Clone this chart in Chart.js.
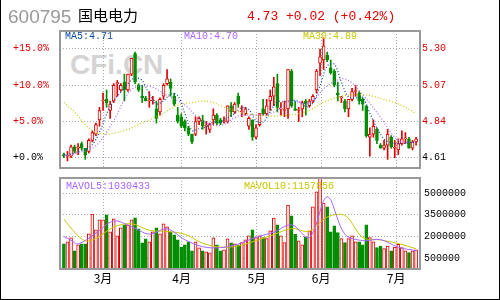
<!DOCTYPE html>
<html>
<head>
<meta charset="utf-8">
<script src="https://cdn.jsdelivr.net/npm/chart.js@4.4.1/dist/chart.umd.min.js"></script>
<style>
  body { margin: 0; background: #fff; }
  #box { position: relative; width: 500px; height: 300px; overflow: hidden; background: #fff; }
  #box canvas { position: absolute; left: 0; top: 0; }
  .t { position: absolute; white-space: nowrap; }
  .mono { font-family: "Liberation Mono", monospace; font-size: 10px; line-height: 10px; }
  #wm { left: 70px; top: 51px; font: bold 28px/28px "Liberation Sans", sans-serif; color: #d4d4d4; }
  #code { left: 8px; top: 7px; font: 19px/19px "Liberation Sans", sans-serif; color: #999; }
  #name { left: 78px; top: 7px; font: 15px/16px "Noto Sans CJK SC", sans-serif; color: #000; }
  #price { left: 247px; top: 10px; font: 13px/13px "Liberation Mono", monospace; color: #e00000; }
  #frame { position: absolute; left: 0; top: 0; width: 500px; height: 300px; box-sizing: border-box;
           border: 1px solid #000; border-top: none; pointer-events: none; }
</style>
</head>
<body>
<div id="box">
  <div class="t" id="wm">CFi.CN</div>
  <canvas id="kline" width="500" height="300"></canvas>
  <canvas id="vol" width="500" height="300"></canvas>
  <div class="t" id="code">600795</div>
  <div class="t" id="name">国电电力</div>
  <div class="t" id="price">4.73 +0.02 (+0.42%)</div>
  <div class="t mono" style="left:65px;top:32px;color:#0a4a9c">MA5:4.71</div>
  <div class="t mono" style="left:184px;top:32px;color:#a866ff">MA10:4.70</div>
  <div class="t mono" style="left:303px;top:32px;color:#c8c800">MA30:4.89</div>
  <div class="t mono" style="left:66px;top:182px;color:#a866ff">MAVOL5:1030433</div>
  <div class="t mono" style="left:244px;top:182px;color:#c8c800">MAVOL10:1157856</div>
  <div id="frame"></div>
</div>
<script>
// daily candles, left to right
const open = [4.63,4.62,4.62,4.68,4.67,4.70,4.67,4.65,4.72,4.76, 4.85,4.97,4.98,4.91,4.97,5.08,5.04,5.09,5.04,5.14,
  5.27,5.07,5.00,4.99,4.97,4.97,4.92,4.90,5.00,5.08, 5.09,5.00,4.88,4.87,4.84,4.80,4.76,4.76,4.84,4.85,
  4.81,4.79,4.85,4.88,4.85,4.84,4.84,4.94,4.90,5.00, 4.90,4.89,4.81,4.85,4.74,4.82,4.92,4.89,4.97,5.00,
  5.08,4.92,4.91,4.92,5.16,4.92,4.91,4.92,4.97,4.94, 4.97,5.04,5.21,5.23,5.26,5.18,5.16,5.02,4.99,4.97,
  4.92,4.98,5.03,5.02,4.98,4.94,4.74,4.76,4.79,4.69, 4.67,4.69,4.74,4.67,4.66,4.70,4.73,4.73,4.67,4.71];
const high = [4.64,4.65,4.69,4.69,4.70,4.71,4.67,4.73,4.78,4.83, 4.93,5.02,5.04,4.97,5.08,5.10,5.08,5.14,5.14,5.24,
  5.28,5.08,5.07,5.00,5.03,5.00,4.97,4.99,5.08,5.17, 5.11,5.02,4.93,4.89,4.85,4.81,4.76,4.87,4.87,4.88,
  4.84,4.83,4.92,4.89,4.86,4.87,4.94,4.96,4.96,5.02, 4.94,4.93,4.87,4.85,4.82,4.89,4.98,4.98,5.04,5.12,
  5.14,4.96,4.97,5.17,5.17,4.97,4.93,4.97,4.98,4.98, 5.01,5.17,5.30,5.37,5.28,5.23,5.17,5.09,5.00,4.98,
  4.98,5.05,5.07,5.03,4.99,4.94,4.80,4.85,4.80,4.70, 4.72,4.79,4.75,4.72,4.73,4.78,4.77,4.74,4.72,4.74];
const low = [4.61,4.59,4.61,4.64,4.63,4.66,4.60,4.64,4.71,4.75, 4.81,4.91,4.93,4.86,4.96,5.00,5.03,4.97,5.03,5.13,
  5.08,5.03,4.96,4.97,4.93,4.95,4.83,4.88,4.98,5.07, 5.00,4.94,4.83,4.80,4.78,4.75,4.70,4.75,4.82,4.79,
  4.76,4.77,4.82,4.82,4.82,4.83,4.83,4.87,4.89,4.93, 4.87,4.88,4.79,4.72,4.73,4.81,4.88,4.88,4.91,4.94,
  4.90,4.88,4.87,4.86,4.93,4.91,4.84,4.87,4.88,4.93, 4.96,5.02,5.13,5.17,5.22,5.14,5.06,4.97,4.96,4.90,
  4.87,4.97,5.00,4.95,4.91,4.74,4.62,4.74,4.70,4.67, 4.66,4.60,4.67,4.61,4.63,4.69,4.70,4.67,4.66,4.69];
const close = [4.62,4.62,4.68,4.65,4.68,4.67,4.63,4.72,4.77,4.82, 4.91,4.97,4.96,4.95,5.07,5.08,5.07,5.04,5.14,5.24,
  5.09,5.04,4.99,4.97,4.97,4.97,4.86,4.98,5.07,5.11, 5.05,4.95,4.84,4.81,4.80,4.76,4.71,4.84,4.86,4.81,
  4.81,4.82,4.88,4.83,4.83,4.84,4.94,4.90,4.95,4.95, 4.90,4.92,4.86,4.74,4.80,4.89,4.89,4.94,5.00,5.06,
  4.93,4.92,4.91,5.17,4.94,4.91,4.91,4.96,4.95,4.97, 5.00,5.16,5.25,5.32,5.23,5.15,5.07,5.01,4.99,4.92,
  4.98,5.03,5.03,4.97,4.95,4.75,4.76,4.81,4.72,4.67, 4.69,4.76,4.68,4.67,4.70,4.73,4.73,4.67,4.71,4.73];
const volume = [1490000,1630000,1910000,1010000,1420000,1490000,1490000,2180000,3550000,2460000,
  3150000,3150000,3500000,2320000,3220000,2050000,2600000,2810000,2810000,3150000,
  3290000,2530000,1560000,1840000,1630000,2320000,2600000,2180000,2880000,2670000,
  2320000,2120000,1770000,1280000,1420000,1630000,1010000,1630000,1220000,1010000,
  940000,870000,1910000,1420000,1010000,1080000,1840000,1560000,1490000,1420000,
  1580000,1770000,2050000,2460000,1930000,2050000,1930000,1860000,2390000,3270000,
  2810000,2050000,1580000,4170000,3430000,2160000,1700000,1420000,1980000,2390000,
  4050000,5090000,6200000,4310000,4050000,2320000,2740000,2280000,1860000,1580000,
  1860000,2050000,1630000,1630000,1420000,2810000,1930000,1630000,1240000,1350000,
  1170000,1350000,1010000,1280000,1470000,1240000,1010000,890000,1010000,1080000];

// moving averages: [candle index, value]
const ma5 = [[0,4.63],[2,4.635],[4,4.65],[6,4.662],[8,4.694],[10,4.77],[12,4.886],[14,4.972],[16,5.026],[18,5.08],
  [20,5.116],[22,5.10],[24,5.012],[26,4.952],[28,4.97],[30,5.014],[32,5.004],[34,4.89],[36,4.784],[38,4.794],
  [40,4.806],[42,4.836],[44,4.834],[46,4.864],[48,4.892],[50,4.928],[52,4.916],[54,4.844],[56,4.836],[58,4.904],
  [60,4.964],[62,4.964],[64,4.974],[66,4.968],[68,4.934],[70,4.958],[72,5.066],[74,5.192],[76,5.204],[78,5.09],
  [80,4.994],[82,4.99],[84,4.992],[86,4.892],[88,4.798],[90,4.73],[92,4.704],[94,4.70],[96,4.702],[98,4.708],[99,4.714]];
const ma10 = [[0,4.62],[4,4.64],[9,4.686],[14,4.847],[19,5.043],[24,5.063],[29,5.005],[34,4.944],[39,4.843],[44,4.815],
  [49,4.875],[54,4.88],[59,4.90],[64,4.965],[69,4.957],[74,5.066],[79,5.11],[84,5.01],[89,4.867],[94,4.721],[99,4.707]];
const ma30 = [[0,4.96],[3,4.90],[6,4.82],[9,4.77],[12,4.76],[15,4.77],[18,4.79],[21,4.82],[24,4.85],[27,4.88],
  [30,4.92],[33,4.95],[36,4.96],[39,4.97],[42,4.96],[45,4.93],[48,4.91],[51,4.89],[54,4.88],[57,4.875],
  [60,4.875],[63,4.88],[66,4.89],[69,4.91],[72,4.95],[75,4.98],[78,5.00],[81,5.01],[84,5.01],[87,5.00],
  [90,4.98],[93,4.96],[96,4.93],[99,4.89]];
const mavol5 = [[0,2000000],[2,1750000],[4,1490000],[9,2230000],[14,3070000],[19,2680000],[24,2170000],[29,2530000],
  [34,1780000],[39,1300000],[44,1230000],[49,1480000],[54,1960000],[59,2300000],[64,2810000],[69,1930000],
  [74,4740000],[79,2160000],[84,1720000],[89,1790000],[94,1260000],[99,1030000]];
const mavol10 = [[0,3200000],[3,2300000],[6,1700000],[9,1860000],[14,2650000],[19,2880000],[24,2430000],[29,2350000],
  [34,2160000],[39,1540000],[44,1270000],[49,1350000],[54,1720000],[59,2130000],[64,2550000],[69,2370000],
  [74,3340000],[79,3450000],[84,1940000],[89,1760000],[94,1520000],[99,1160000]];

const basePrice = 4.61;
const pctTicks = [0, 5, 10, 15];
const volTicks = [500000, 2000000, 3500000, 5000000];
const months = ['3月', '4月', '5月', '6月', '7月'];
const monthAt = [11, 33.1, 54.2, 72.3, 93.4];

const red = '#e00000', green = '#008e00', gridColor = '#aaa';
const xMin = -1.1, xMax = 100.1;
const priceMin = 4.545, priceMax = 5.414;
const volMin = -240000, volMax = 6040000;

const idx = close.map((c, i) => i);
const up = idx.map(i => close[i] >= open[i]);
const pts = arr => arr.map(([x, y]) => ({ x, y }));

const frame = {
  id: 'frame',
  afterDraw(chart) {
    const a = chart.chartArea, ctx = chart.ctx;
    ctx.save();
    ctx.strokeStyle = '#999';
    ctx.lineWidth = 2;
    ctx.strokeRect(a.left, a.top, a.right - a.left, a.bottom - a.top);
    ctx.restore();
  }
};

const monthTicks = s => { s.ticks = monthAt.map(v => ({ value: v })); };
const priceTicks = s => { s.ticks = pctTicks.map(p => ({ value: basePrice * (1 + p / 100) })); };
const numFont = { family: 'Liberation Mono', size: 10 };
const dotted = { display: false, dash: [1, 2] };

new Chart(document.getElementById('kline'), {
  type: 'bar',
  data: {
    datasets: [
      { data: idx.map(i => ({ x: i, y: [low[i], high[i]] })), backgroundColor: idx.map(i => up[i] ? red : green),
        barThickness: 1, grouped: false, order: 3 },
      { data: idx.map(i => ({ x: i, y: [open[i], close[i]] })), backgroundColor: idx.map(i => up[i] ? '#fff' : green),
        borderColor: idx.map(i => up[i] ? red : green), borderWidth: 1, borderSkipped: false,
        barThickness: 3, minBarLength: 1, grouped: false, order: 2 },
      { type: 'line', data: pts(ma5), borderColor: '#0a4a9c', borderWidth: 1.2, borderDash: [1, 2], pointRadius: 0, tension: 0.35, order: 1 },
      { type: 'line', data: pts(ma10), borderColor: '#a866ff', borderWidth: 1.2, borderDash: [1, 2], pointRadius: 0, tension: 0.35, order: 1 },
      { type: 'line', data: pts(ma30), borderColor: '#c8c800', borderWidth: 1.2, borderDash: [1, 2], pointRadius: 0, tension: 0.35, order: 1 }
    ]
  },
  options: {
    responsive: false, animation: false, events: [],
    layout: { padding: { left: 13, top: 31, right: 0, bottom: 132 } },
    plugins: { legend: { display: false }, tooltip: { enabled: false } },
    scales: {
      x: { type: 'linear', offset: false, min: xMin, max: xMax, afterBuildTicks: monthTicks, afterFit: s => { s.height = 0; },
           ticks: { display: false }, grid: { color: gridColor, drawTicks: false, offset: false }, border: dotted },
      y: { min: priceMin, max: priceMax, afterBuildTicks: priceTicks, afterFit: s => { s.width = 47; },
           ticks: { callback: (v, i) => '+' + pctTicks[i].toFixed(1) + '%', crossAlign: 'far', font: numFont,
                    color: c => c.index === 0 ? '#000' : red },
           grid: { color: gridColor, drawTicks: false }, border: dotted },
      y2: { position: 'right', min: priceMin, max: priceMax, afterBuildTicks: priceTicks, afterFit: s => { s.width = 80; },
            ticks: { callback: v => v.toFixed(2), padding: 2, font: numFont, color: c => c.index === 0 ? '#000' : red },
            grid: { drawOnChartArea: false, drawTicks: false }, border: { display: false } }
    }
  },
  plugins: [frame]
});

new Chart(document.getElementById('vol'), {
  type: 'bar',
  data: {
    datasets: [
      { data: idx.map(i => ({ x: i, y: volume[i] })), base: volMin,
        backgroundColor: idx.map(i => up[i] ? '#fff' : green), borderColor: idx.map(i => up[i] ? red : green),
        borderWidth: 1, borderSkipped: false, barThickness: 3, order: 2 },
      { type: 'line', data: pts(mavol5), borderColor: '#a866ff', borderWidth: 1, pointRadius: 0, tension: 0.35, order: 1 },
      { type: 'line', data: pts(mavol10), borderColor: '#c8c800', borderWidth: 1, pointRadius: 0, tension: 0.35, order: 1 }
    ]
  },
  options: {
    responsive: false, animation: false, events: [],
    layout: { padding: { left: 60, top: 178, right: 0, bottom: 0 } },
    plugins: { legend: { display: false }, tooltip: { enabled: false } },
    scales: {
      x: { type: 'linear', offset: false, min: xMin, max: xMax, afterBuildTicks: monthTicks, afterFit: s => { s.height = 31; },
           ticks: { callback: (v, i) => months[i], color: '#000', autoSkip: false, maxRotation: 0, padding: 2,
                    font: { family: 'Noto Sans CJK SC', size: 12 } },
           grid: { color: gridColor, drawTicks: false, offset: false }, border: dotted },
      y: { position: 'right', min: volMin, max: volMax, afterFit: s => { s.width = 80; },
           afterBuildTicks: s => { s.ticks = volTicks.map(v => ({ value: v })); },
           ticks: { callback: (v, i) => String(volTicks[i]), color: '#000', padding: 4, font: numFont },
           grid: { color: gridColor, drawTicks: false }, border: dotted }
    }
  },
  plugins: [frame]
});
</script>
</body>
</html>
